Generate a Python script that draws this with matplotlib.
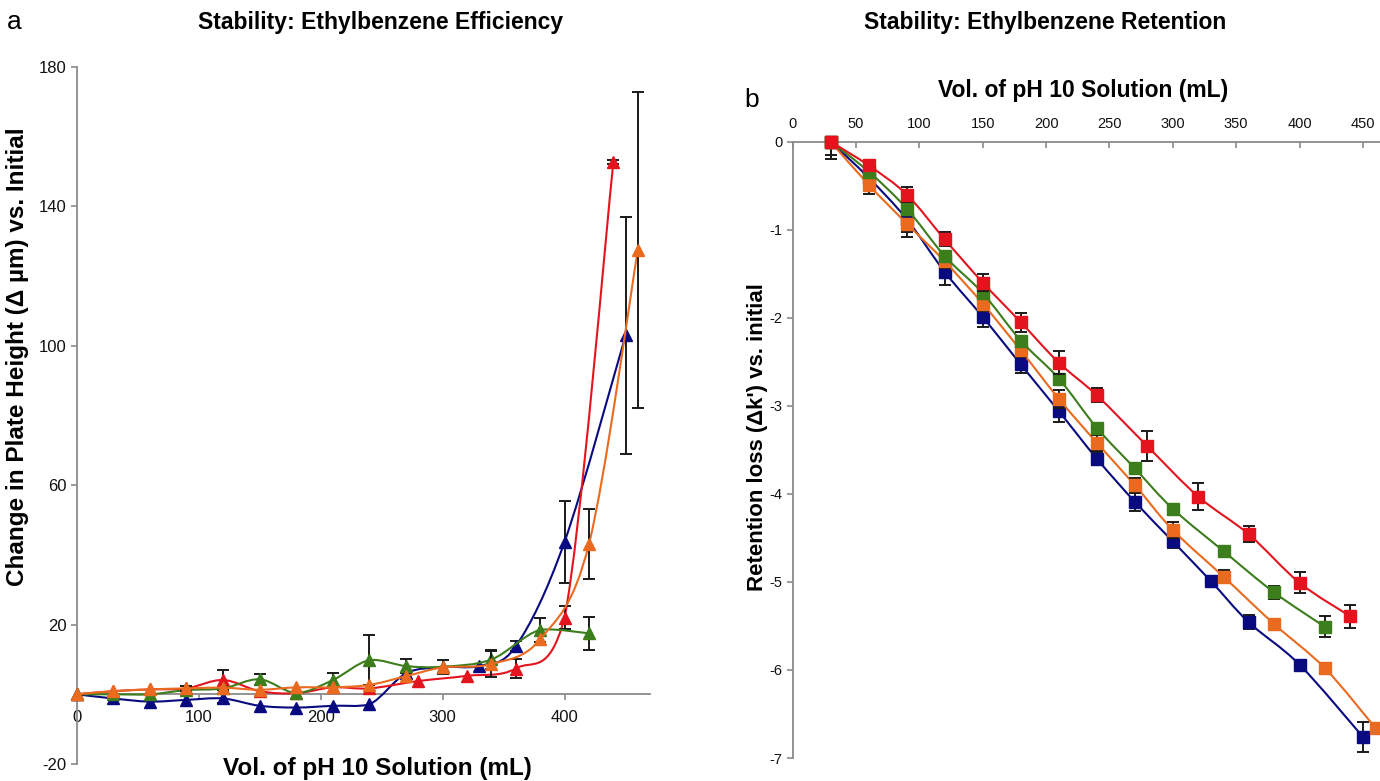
import numpy as np
import matplotlib
matplotlib.use("Agg")
import matplotlib.pyplot as plt
from matplotlib.path import Path
from matplotlib.patches import PathPatch

plt.rcParams['font.family'] = ['Liberation Sans', 'DejaVu Sans']
plt.rcParams['axes.unicode_minus'] = False

# ---- panel a: change in plate height ----
eff_x_blue = [0, 30, 60, 90, 120, 150, 180, 210, 240, 270, 300, 330, 360, 400, 450]
eff_blue = [0, -1.2, -2.1, -1.6, -1.2, -3.3, -3.8, -3.3, -2.9, 6.0, 7.8, 8.1, 13.8, 43.8, 103]
eff_blue_err = [0, 0, 0, 0, 1.2, 0, 0, 0, 0, 0, 0, 0, 1.5, 11.8, 34]

eff_x_red = [0, 30, 60, 90, 120, 150, 180, 210, 240, 280, 320, 360, 400, 440]
eff_red = [0, 0.9, 1.4, 1.7, 4.1, 0.9, 0.3, 2.0, 1.7, 3.8, 5.3, 7.4, 22, 152.8]
eff_red_err = [0, 0, 0, 0, 2.9, 0, 0, 0, 0, 0, 0, 2.8, 3.3, 0.5]

eff_x_green = [0, 30, 60, 90, 120, 150, 180, 210, 240, 270, 300, 340, 380, 420]
eff_green = [0, 0, 0, 1.2, 1.7, 4.3, 0.4, 4.1, 9.8, 8.1, 7.9, 10.0, 18.5, 17.5]
eff_green_err = [0, 0, 0, 0, 0, 1.5, 0, 2, 7.2, 2.1, 0, 2.6, 3.5, 4.8]

eff_x_orange = [0, 30, 60, 90, 120, 150, 180, 210, 240, 270, 300, 340, 380, 420, 460]
eff_orange = [0, 0.9, 1.4, 1.7, 1.9, 1.3, 2.0, 2.0, 2.7, 5.2, 7.7, 8.7, 15.8, 43.2, 127.5]
eff_orange_err = [0, 0, 0, 0.8, 0, 0, 0, 0, 0, 0, 2, 3.6, 0, 10, 45.3]

# ---- panel b: retention loss ----
ret_x_blue = [30, 60, 90, 120, 150, 180, 210, 240, 270, 300, 330, 360, 400, 450]
ret_blue = [0, -0.41, -0.88, -1.48, -1.99, -2.53, -3.06, -3.6, -4.09, -4.54, -4.99, -5.46, -5.94, -6.76]
ret_blue_err = [0.2, 0.15, 0.2, 0.15, 0.11, 0.1, 0.12, 0.07, 0.1, 0.07, 0.03, 0.08, 0.03, 0.17]

ret_x_red = [30, 60, 90, 120, 150, 180, 210, 240, 280, 320, 360, 400, 440]
ret_red = [0, -0.27, -0.6, -1.11, -1.6, -2.05, -2.51, -2.88, -3.46, -4.03, -4.46, -5.01, -5.39]
ret_red_err = [0, 0.06, 0.08, 0.08, 0.1, 0.11, 0.13, 0.08, 0.17, 0.15, 0.09, 0.12, 0.13]

ret_x_green = [30, 60, 90, 120, 150, 180, 210, 240, 270, 300, 340, 380, 420]
ret_green = [0, -0.34, -0.76, -1.3, -1.72, -2.26, -2.69, -3.25, -3.71, -4.17, -4.65, -5.12, -5.51]
ret_green_err = [0, 0.05, 0.05, 0.05, 0.05, 0.05, 0.05, 0.05, 0.04, 0.04, 0.04, 0.07, 0.12]

ret_x_orange = [30, 60, 90, 120, 150, 180, 210, 240, 270, 300, 340, 380, 420, 460]
ret_orange = [0, -0.49, -0.93, -1.36, -1.84, -2.37, -2.92, -3.42, -3.9, -4.41, -4.94, -5.48, -5.98, -6.66]
ret_orange_err = [0.15, 0.1, 0.1, 0.08, 0.08, 0.08, 0.1, 0.09, 0.08, 0.09, 0.07, 0.05, 0.06, 0.06]

navy = '#0a0a80'
red = '#e3141e'
green = '#3c7d1c'
orange = '#ea6a1f'
spine_col = '#8a8a8a'

W, H = 1380, 781


def smooth_path(x, y):
    # excel style smoothed line: catmull-rom segments as cubic beziers,
    # control points kept inside each segment's y range to avoid dips
    pts = np.column_stack([x, y]).astype(float)
    n = len(pts)
    verts = [pts[0]]
    codes = [Path.MOVETO]
    for i in range(n - 1):
        p0 = pts[i - 1] if i > 0 else pts[i]
        p1, p2 = pts[i], pts[i + 1]
        p3 = pts[i + 2] if i + 2 < n else pts[i + 1]
        c1 = p1 + (p2 - p0) / 6
        c2 = p2 - (p3 - p1) / 6
        lo, hi = min(p1[1], p2[1]), max(p1[1], p2[1])
        pad = 0.15 * (hi - lo) + 0.02 * abs(hi) + 0.3 * (hi - lo < 1)
        c1[1] = np.clip(c1[1], lo - pad, hi + pad)
        c2[1] = np.clip(c2[1], lo - pad, hi + pad)
        verts += [c1, c2, p2]
        codes += [Path.CURVE4] * 3
    return Path(verts, codes)


def series(ax, x, y, err, color, marker, ms, z):
    x = np.asarray(x, float)
    y = np.asarray(y, float)
    err = np.asarray(err, float)
    ax.add_patch(PathPatch(smooth_path(x, y), fill=False, edgecolor=color, lw=1.5, zorder=z))
    m = err > 0
    ax.errorbar(x[m], y[m], yerr=err[m], fmt='none', ecolor='#1a1a1a', elinewidth=1.4,
                capsize=4, capthick=1.4, zorder=z + 0.5)
    ax.plot(x, y, linestyle='none', marker=marker, ms=ms, color=color,
            markeredgecolor=color, zorder=z + 1, clip_on=False)


fig = plt.figure(figsize=(W / 100, H / 100), dpi=100)

# panel a
ax1 = fig.add_axes([76.7 / W, 1 - 764 / H, (650 - 76.7) / W, 697 / H])
ax1.set_xlim(0, 470)
ax1.set_ylim(-20, 180)
series(ax1, eff_x_blue, eff_blue, eff_blue_err, navy, '^', 8.5, 3)
series(ax1, eff_x_red, eff_red, eff_red_err, red, '^', 8.5, 4)
series(ax1, eff_x_green, eff_green, eff_green_err, green, '^', 8.5, 5)
series(ax1, eff_x_orange, eff_orange, eff_orange_err, orange, '^', 8.5, 6)
ax1.set_yticks([-20, 20, 60, 100, 140, 180])
ax1.set_xticks([0, 100, 200, 300, 400])
ax1.spines['bottom'].set_position(('data', 0))
for s in ['top', 'right']:
    ax1.spines[s].set_visible(False)
for s in ['left', 'bottom']:
    ax1.spines[s].set_color(spine_col)
    ax1.spines[s].set_linewidth(1.3)
ax1.tick_params(axis='both', colors=spine_col, labelcolor='#111111', labelsize=12,
                length=4, width=1.2)
ax1.tick_params(axis='x', pad=7)

# panel b
ax2 = fig.add_axes([792.7 / W, 1 - 758 / H, (W - 792.7) / W, 616.3 / H])
ax2.set_xlim(0, 463.5)
ax2.set_ylim(-7, 0)
series(ax2, ret_x_blue, ret_blue, ret_blue_err, navy, 's', 8, 3)
series(ax2, ret_x_orange, ret_orange, ret_orange_err, orange, 's', 8, 4)
series(ax2, ret_x_green, ret_green, ret_green_err, green, 's', 8, 5)
series(ax2, ret_x_red, ret_red, ret_red_err, red, 's', 8, 6)
ax2.xaxis.tick_top()
ax2.set_xticks(np.arange(0, 451, 50))
ax2.set_yticks(np.arange(-7, 1, 1))
for s in ['bottom', 'right']:
    ax2.spines[s].set_visible(False)
for s in ['left', 'top']:
    ax2.spines[s].set_color(spine_col)
    ax2.spines[s].set_linewidth(1.3)
ax2.tick_params(axis='both', colors=spine_col, labelcolor='#111111', labelsize=10.5,
                length=4, width=1.2)
ax2.tick_params(axis='x', direction='in', pad=8)

# texts
fig.text(381 / W, 1 - 22 / H, 'Stability: Ethylbenzene Efficiency', ha='center', va='center',
         fontsize=16.5, fontweight='bold')
fig.text(1045 / W, 1 - 22 / H, 'Stability: Ethylbenzene Retention', ha='center', va='center',
         fontsize=16.5, fontweight='bold')
fig.text(14 / W, 1 - 22 / H, 'a', ha='center', va='center', fontsize=19)
fig.text(752 / W, 1 - 100 / H, 'b', ha='center', va='center', fontsize=19)
fig.text(377 / W, 1 - 768 / H, 'Vol. of pH 10 Solution (mL)', ha='center', va='center',
         fontsize=17.5, fontweight='bold')
fig.text(1083 / W, 1 - 90 / H, 'Vol. of pH 10 Solution (mL)', ha='center', va='center',
         fontsize=16.5, fontweight='bold')
fig.text(18 / W, 1 - 357 / H, 'Change in Plate Height (\u0394 \u00b5m) vs. Initial', ha='center',
         va='center', rotation=90, fontsize=17.5, fontweight='bold')
fig.text(757 / W, 1 - 437 / H, "Retention loss (\u0394k') vs. initial", ha='center',
         va='center', rotation=90, fontsize=16, fontweight='bold')

fig.savefig('out.png', dpi=100)
